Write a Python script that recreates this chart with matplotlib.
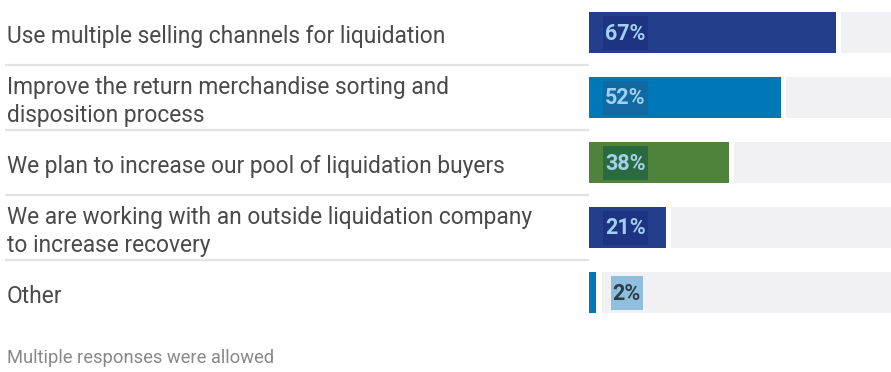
import matplotlib.pyplot as plt
from matplotlib.patches import Rectangle
from matplotlib.transforms import blended_transform_factory, offset_copy

plt.rcParams['font.family'] = ['Roboto', 'DejaVu Sans']

labels = [
    "Use multiple selling channels for liquidation",
    "Improve the return merchandise sorting and\ndisposition process",
    "We plan to increase our pool of liquidation buyers",
    "We are working with an outside liquidation company\nto increase recovery",
    "Other",
]
values = [67, 52, 38, 21, 2]
bar_colors = ["#233f8b", "#0077b6", "#4f833b", "#233f8b", "#0077b6"]
box_colors = ["#1c3481", "#1268a0", "#2b6a3f", "#1c3481", "#8fbfdc"]
text_colors = ["#a3d0ee", "#a3d0ee", "#a3d0ee", "#a3d0ee", "#2c3e4c"]
note = "Multiple responses were allowed"

W, H = 891, 372
fig = plt.figure(figsize=(W / 100, H / 100), dpi=100)
ax = fig.add_axes([589 / W, (H - 325) / H, 302 / W, 325 / H])

xmax = 82.0      # visible part of the 0-100 scale
gap = 1.4        # white gap between bar and remainder
ypos = list(range(len(values)))

ax.barh(ypos, values, height=0.64, color=bar_colors, edgecolor="none")
rest_left = [v + gap for v in values]
rest_w = [100 - l for l in rest_left]
ax.barh(ypos, rest_w, left=rest_left, height=0.64, color="#f1f1f3", edgecolor="none")

ax.set_xlim(0, xmax)
ax.set_ylim(4.5, -0.5)
ax.axis("off")

# category labels and separators on the left
tr = blended_transform_factory(fig.transFigure, ax.transData)
tr_lab = offset_copy(tr, fig=fig, x=0, y=-4, units="dots")
for y, lab in zip(ypos, labels):
    ax.text(7 / W, y, lab, transform=tr_lab, ha="left", va="center",
            fontsize=16.4, color="#4a4a4a", linespacing=1.25, clip_on=False)
for y in [0.5, 1.5, 2.5, 3.5]:
    ax.plot([5 / W, 589 / W], [y, y], transform=tr, color="#e3e3e3",
            lw=1.6, clip_on=False, solid_capstyle="butt")

# value labels: digits centred on the bar
tr_val = offset_copy(ax.transData, fig=fig, x=0, y=-7, units="dots")
vtexts = []
for y, v, tc in zip(ypos, values, text_colors):
    x = 4.4 if v > 10 else v + gap + 3.0
    t = ax.text(x, y, f"{v}%", transform=tr_val, ha="left", va="baseline",
                fontsize=15.5, fontweight="bold", color=tc, zorder=4)
    vtexts.append(t)

# boxes behind the value labels, sized from the rendered text
fig.canvas.draw()
rend = fig.canvas.get_renderer()
for t, y, bc in zip(vtexts, ypos, box_colors):
    bb = t.get_window_extent(rend)
    cy = ax.transData.transform((0, y))[1]
    ax.add_patch(Rectangle((bb.x0 - 2, cy - 17), bb.width + 4, 34,
                           transform=None, fc=bc, ec="none", zorder=3))

fig.text(7 / W, (H - 363) / H, note, ha="left", va="baseline",
         fontsize=13.2, color="#888888")

fig.savefig("out.png", dpi=100)
